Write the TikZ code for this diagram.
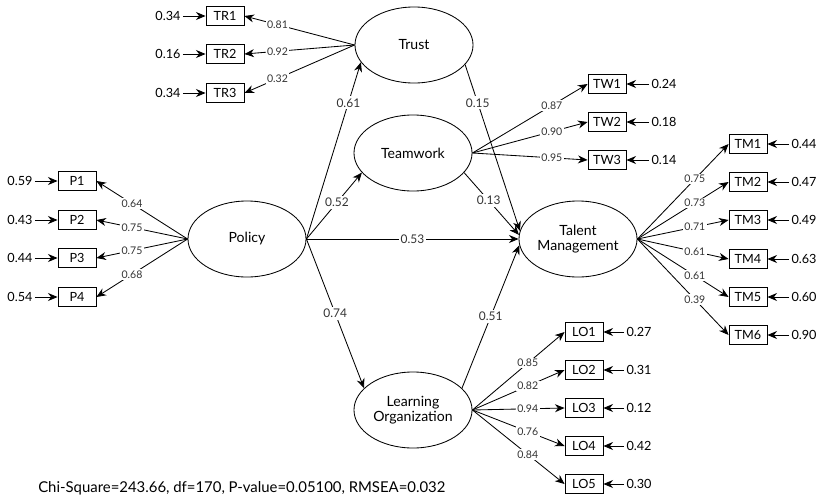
\documentclass[tikz,border=0pt]{standalone}
\usepackage{fontspec}
\setmainfont{Lato}
\usepackage{tikz}
\usetikzlibrary{shapes.geometric}
\usetikzlibrary{arrows.meta}
\tikzstyle{latent}=[draw, ellipse, line width=0.6pt, inner sep=0pt, minimum width=2.95cm, minimum height=1.9cm, font=\fontsize{10}{11}\selectfont, align=center]
\tikzstyle{observed}=[draw, rectangle, line width=0.6pt, inner sep=0pt, minimum width=0.95cm, minimum height=0.475cm, font=\fontsize{9}{10}\selectfont]
\tikzstyle{errval}=[inner sep=1.5pt, font=\fontsize{9}{10}\selectfont]
\tikzstyle{load}=[fill=white, inner sep=1pt, font=\fontsize{7.5}{8}\selectfont, text=black!80]
\tikzstyle{coef}=[fill=white, inner sep=1.5pt, font=\fontsize{8.5}{9}\selectfont, text=black!80]
\tikzstyle{path}=[line width=0.6pt, -{Stealth[length=2.4mm, width=2mm]}]

\begin{document}
\begin{tikzpicture}[x=0.025cm, y=-0.025cm]
        \useasboundingbox (0, 0) rectangle (820, 500);
        \node[latent] (Trust) at (414, 45) {Trust};
        \node[latent] (Team) at (413, 153) {Teamwork};
        \node[latent] (Pol) at (247, 239) {Policy};
        \node[latent] (TalMan) at (578, 239) {Talent\\Management};
        \node[latent] (LrnOrg) at (413, 410) {Learning\\Organization};

        \node[observed] (TR1) at (225, 16) {TR1};
        \node[observed] (TR2) at (225, 54) {TR2};
        \node[observed] (TR3) at (225, 93) {TR3};
        \node[errval] (eTR1) at (168, 16) {0.34};
        \node[errval] (eTR2) at (168, 54) {0.16};
        \node[errval] (eTR3) at (168, 93) {0.34};

        \node[observed] (P1) at (77, 181) {P1};
        \node[observed] (P2) at (77, 220) {P2};
        \node[observed] (P3) at (77, 258) {P3};
        \node[observed] (P4) at (77, 297) {P4};
        \node[errval] (eP1) at (20, 181) {0.59};
        \node[errval] (eP2) at (20, 220) {0.43};
        \node[errval] (eP3) at (20, 258) {0.44};
        \node[errval] (eP4) at (20, 297) {0.54};

        \node[observed] (TW1) at (607, 84) {TW1};
        \node[observed] (TW2) at (607, 122) {TW2};
        \node[observed] (TW3) at (607, 160) {TW3};
        \node[errval] (eTW1) at (664, 84) {0.24};
        \node[errval] (eTW2) at (664, 122) {0.18};
        \node[errval] (eTW3) at (664, 160) {0.14};

        \node[observed] (TM1) at (748, 144) {TM1};
        \node[observed] (TM2) at (748, 182) {TM2};
        \node[observed] (TM3) at (748, 220) {TM3};
        \node[observed] (TM4) at (748, 259) {TM4};
        \node[observed] (TM5) at (748, 297) {TM5};
        \node[observed] (TM6) at (748, 335) {TM6};
        \node[errval] (eTM1) at (804, 144) {0.44};
        \node[errval] (eTM2) at (804, 182) {0.47};
        \node[errval] (eTM3) at (804, 220) {0.49};
        \node[errval] (eTM4) at (804, 259) {0.63};
        \node[errval] (eTM5) at (804, 297) {0.60};
        \node[errval] (eTM6) at (804, 335) {0.90};

        \node[observed] (LO1) at (584, 332) {LO1};
        \node[observed] (LO2) at (584, 370) {LO2};
        \node[observed] (LO3) at (584, 408) {LO3};
        \node[observed] (LO4) at (584, 446) {LO4};
        \node[observed] (LO5) at (584, 484) {LO5};
        \node[errval] (eLO1) at (639, 332) {0.27};
        \node[errval] (eLO2) at (639, 370) {0.31};
        \node[errval] (eLO3) at (639, 408) {0.12};
        \node[errval] (eLO4) at (639, 446) {0.42};
        \node[errval] (eLO5) at (639, 484) {0.30};

        \node[anchor=west, inner sep=0pt, font=\fontsize{10.6}{12}\selectfont] (fit) at (38, 488) {Chi-Square=243.66, df=170, P-value=0.05100, RMSEA=0.032};

        \draw[path] (Trust.west) -- node[load, pos=0.7] {0.81} (TR1.east);
        \draw[path] (Trust.west) -- node[load, pos=0.7] {0.92} (TR2.east);
        \draw[path] (Trust.west) -- node[load, pos=0.7] {0.32} (TR3.east);
        \draw[path] (Pol.west) -- node[load, pos=0.61] {0.64} (P1.east);
        \draw[path] (Pol.west) -- node[load, pos=0.61] {0.75} (P2.east);
        \draw[path] (Pol.west) -- node[load, pos=0.61] {0.75} (P3.east);
        \draw[path] (Pol.west) -- node[load, pos=0.61] {0.68} (P4.east);
        \draw[path] (Team.east) -- node[load, pos=0.69] {0.87} (TW1.west);
        \draw[path] (Team.east) -- node[load, pos=0.69] {0.90} (TW2.west);
        \draw[path] (Team.east) -- node[load, pos=0.69] {0.95} (TW3.west);
        \draw[path] (TalMan.east) -- node[load, pos=0.63] {0.75} (TM1.west);
        \draw[path] (TalMan.east) -- node[load, pos=0.63] {0.73} (TM2.west);
        \draw[path] (TalMan.east) -- node[load, pos=0.63] {0.71} (TM3.west);
        \draw[path] (TalMan.east) -- node[load, pos=0.63] {0.61} (TM4.west);
        \draw[path] (TalMan.east) -- node[load, pos=0.63] {0.61} (TM5.west);
        \draw[path] (TalMan.east) -- node[load, pos=0.63] {0.39} (TM6.west);
        \draw[path] (LrnOrg.east) -- node[load, pos=0.6] {0.85} (LO1.west);
        \draw[path] (LrnOrg.east) -- node[load, pos=0.6] {0.82} (LO2.west);
        \draw[path] (LrnOrg.east) -- node[load, pos=0.6] {0.94} (LO3.west);
        \draw[path] (LrnOrg.east) -- node[load, pos=0.6] {0.76} (LO4.west);
        \draw[path] (LrnOrg.east) -- node[load, pos=0.6] {0.84} (LO5.west);

        \draw[path] (eTR1) -- (TR1);
        \draw[path] (eTR2) -- (TR2);
        \draw[path] (eTR3) -- (TR3);
        \draw[path] (eP1) -- (P1);
        \draw[path] (eP2) -- (P2);
        \draw[path] (eP3) -- (P3);
        \draw[path] (eP4) -- (P4);
        \draw[path] (eTW1) -- (TW1);
        \draw[path] (eTW2) -- (TW2);
        \draw[path] (eTW3) -- (TW3);
        \draw[path] (eTM1) -- (TM1);
        \draw[path] (eTM2) -- (TM2);
        \draw[path] (eTM3) -- (TM3);
        \draw[path] (eTM4) -- (TM4);
        \draw[path] (eTM5) -- (TM5);
        \draw[path] (eTM6) -- (TM6);
        \draw[path] (eLO1) -- (LO1);
        \draw[path] (eLO2) -- (LO2);
        \draw[path] (eLO3) -- (LO3);
        \draw[path] (eLO4) -- (LO4);
        \draw[path] (eLO5) -- (LO5);

        \draw[path] (Pol.east) -- node[coef, pos=0.77] {0.61} (Trust.198);
        \draw[path] (Pol.east) -- node[coef, pos=0.55] {0.52} (Team.201);
        \draw[path] (Pol.east) -- node[coef, pos=0.5] {0.74} (LrnOrg.156);
        \draw[path] (Pol.east) -- node[coef, pos=0.5] {0.53} (TalMan.west);
        \draw[path] (Trust.339) -- node[coef, pos=0.23] {0.15} (TalMan.172);
        \draw[path] (Team.339) -- node[coef, pos=0.45] {0.13} (TalMan.176);
        \draw[path] (LrnOrg.24) -- node[coef, pos=0.5] {0.51} (TalMan.186);
    \end{tikzpicture}
\end{document}
